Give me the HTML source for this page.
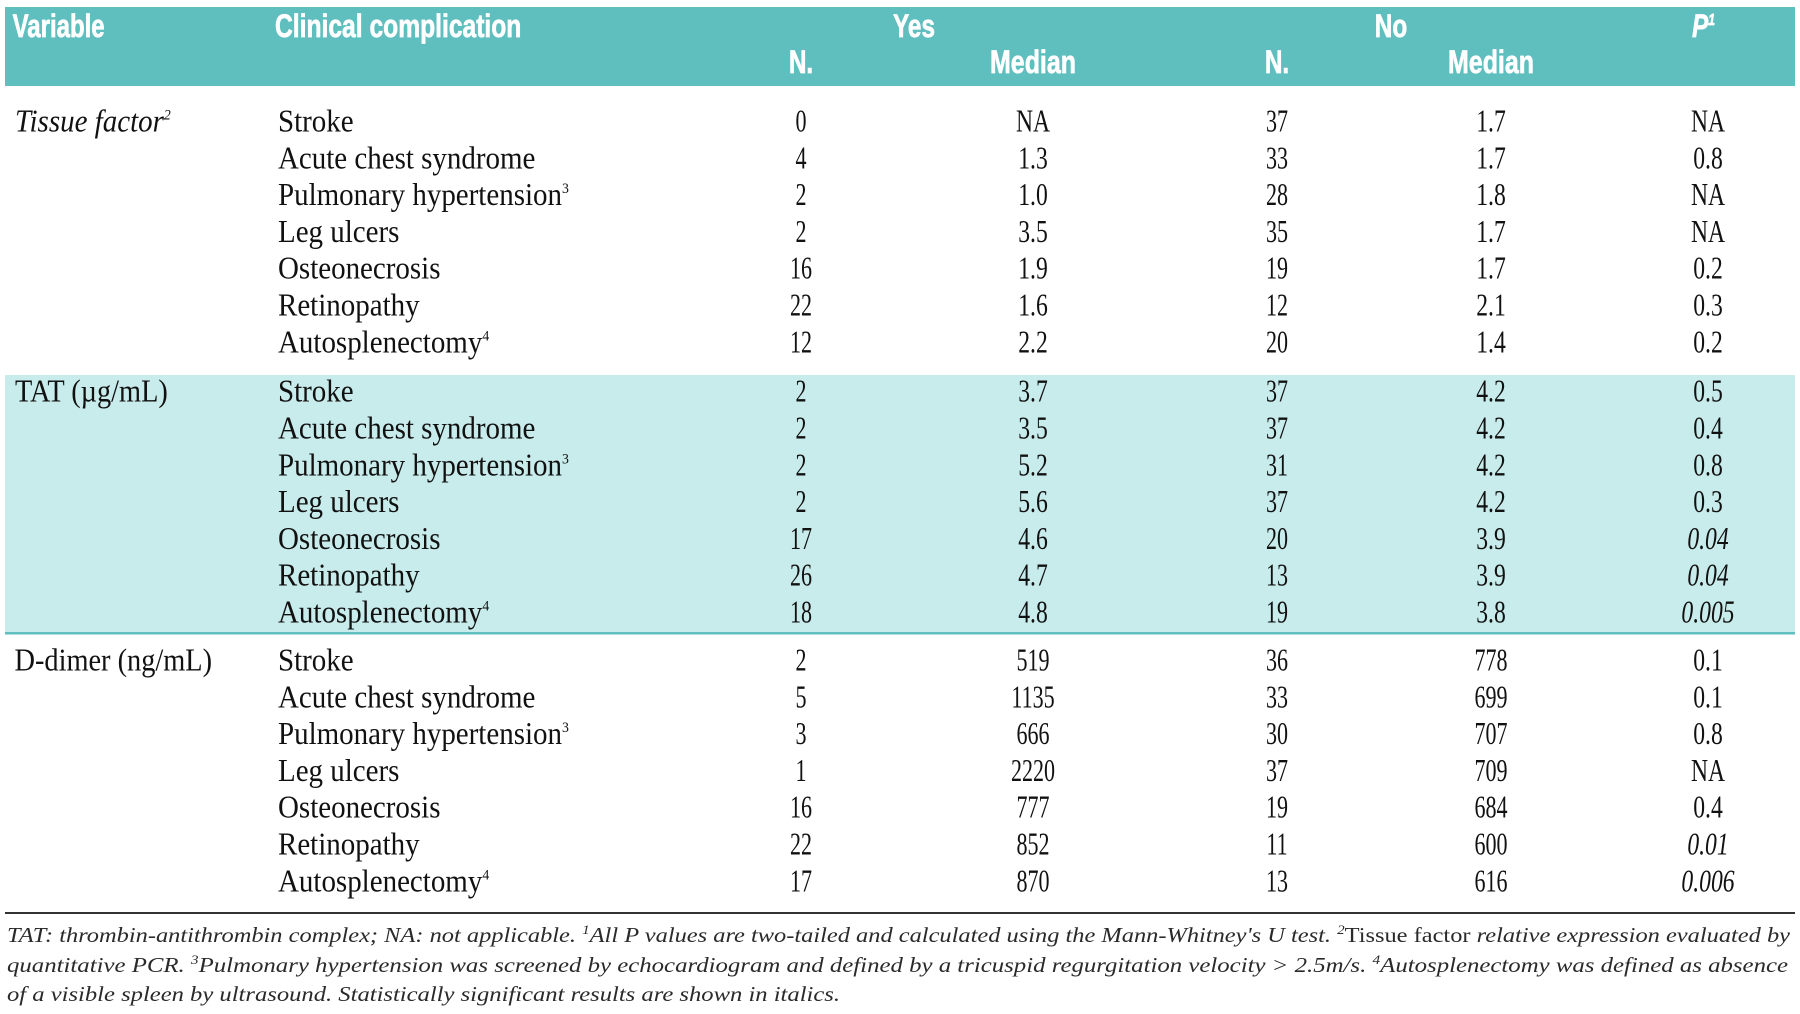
<!DOCTYPE html>
<html>
<head>
<meta charset="utf-8">
<style>
html,body{margin:0;padding:0;background:#fff;}
svg{display:block;}
.h{font-family:"Liberation Sans",sans-serif;font-weight:bold;font-size:32px;fill:#fff;stroke:#fff;stroke-width:0.7px;}
.b{font-family:"Liberation Serif",serif;font-size:31.5px;fill:#111;}
.n{font-family:"Liberation Serif",serif;font-size:31.5px;fill:#111;text-anchor:middle;}
.i{font-style:italic;}
.f{font-family:"Liberation Serif",serif;font-size:21px;fill:#2a2a2a;font-style:italic;}
</style>
</head>
<body>
<svg width="1800" height="1014" viewBox="0 0 1800 1014" xmlns="http://www.w3.org/2000/svg">
<rect x="0" y="0" width="1800" height="1014" fill="#fff"/>
<rect x="5" y="7" width="1790" height="79" fill="#5fbebe"/>
<rect x="5" y="375" width="1790" height="258" fill="#c8ebeb"/>
<rect x="5" y="632" width="1790" height="2.5" fill="#5fbebe"/>
<rect x="5" y="912" width="1790" height="2" fill="#333"/>

<!-- Header -->
<text class="h" transform="translate(12.6,37) scale(0.75,1)">Variable</text>
<text class="h" transform="translate(275,37) scale(0.77,1)">Clinical complication</text>
<text class="h" transform="translate(914,37) scale(0.76,1)" text-anchor="middle">Yes</text>
<text class="h" transform="translate(1391,37) scale(0.76,1)" text-anchor="middle">No</text>
<text class="h i" transform="translate(1692,37) scale(0.76,1)">P<tspan font-size="16" dy="-12">1</tspan></text>
<text class="h" transform="translate(801,73) scale(0.76,1)" text-anchor="middle">N.</text>
<text class="h" transform="translate(1033,73) scale(0.78,1)" text-anchor="middle">Median</text>
<text class="h" transform="translate(1277,73) scale(0.76,1)" text-anchor="middle">N.</text>
<text class="h" transform="translate(1491,73) scale(0.78,1)" text-anchor="middle">Median</text>

<!-- Variable column -->
<text class="b i" transform="translate(15,131.5) scale(0.92,1)">Tissue factor<tspan font-size="15" dy="-12">2</tspan></text>
<text class="b" transform="translate(15,401.7) scale(0.9,1)">TAT (µg/mL)</text>
<text class="b" transform="translate(14.5,670.5) scale(0.9,1)">D-dimer (ng/mL)</text>

<!-- Section 1 labels -->
<text class="b" transform="translate(278,131.5) scale(0.92,1)">Stroke</text>
<text class="b" transform="translate(278,168.3) scale(0.92,1)">Acute chest syndrome</text>
<text class="b" transform="translate(278,205.1) scale(0.92,1)">Pulmonary hypertension<tspan font-size="15" dy="-12">3</tspan></text>
<text class="b" transform="translate(278,241.9) scale(0.92,1)">Leg ulcers</text>
<text class="b" transform="translate(278,278.7) scale(0.92,1)">Osteonecrosis</text>
<text class="b" transform="translate(278,315.5) scale(0.92,1)">Retinopathy</text>
<text class="b" transform="translate(278,352.3) scale(0.92,1)">Autosplenectomy<tspan font-size="15" dy="-12">4</tspan></text>

<!-- Section 2 labels -->
<text class="b" transform="translate(278,401.7) scale(0.92,1)">Stroke</text>
<text class="b" transform="translate(278,438.5) scale(0.92,1)">Acute chest syndrome</text>
<text class="b" transform="translate(278,475.3) scale(0.92,1)">Pulmonary hypertension<tspan font-size="15" dy="-12">3</tspan></text>
<text class="b" transform="translate(278,512.1) scale(0.92,1)">Leg ulcers</text>
<text class="b" transform="translate(278,548.9) scale(0.92,1)">Osteonecrosis</text>
<text class="b" transform="translate(278,585.7) scale(0.92,1)">Retinopathy</text>
<text class="b" transform="translate(278,622.5) scale(0.92,1)">Autosplenectomy<tspan font-size="15" dy="-12">4</tspan></text>

<!-- Section 3 labels -->
<text class="b" transform="translate(278,670.5) scale(0.92,1)">Stroke</text>
<text class="b" transform="translate(278,707.3) scale(0.92,1)">Acute chest syndrome</text>
<text class="b" transform="translate(278,744.1) scale(0.92,1)">Pulmonary hypertension<tspan font-size="15" dy="-12">3</tspan></text>
<text class="b" transform="translate(278,780.9) scale(0.92,1)">Leg ulcers</text>
<text class="b" transform="translate(278,817.7) scale(0.92,1)">Osteonecrosis</text>
<text class="b" transform="translate(278,854.5) scale(0.92,1)">Retinopathy</text>
<text class="b" transform="translate(278,891.3) scale(0.92,1)">Autosplenectomy<tspan font-size="15" dy="-12">4</tspan></text>

<!-- Section 1 numbers -->
<text class="n" transform="translate(801,131.5) scale(0.7,1)">0</text>
<text class="n" transform="translate(1033,131.5) scale(0.75,1)">NA</text>
<text class="n" transform="translate(1277,131.5) scale(0.7,1)">37</text>
<text class="n" transform="translate(1491,131.5) scale(0.75,1)">1.7</text>
<text class="n" transform="translate(1708,131.5) scale(0.75,1)">NA</text>

<text class="n" transform="translate(801,168.3) scale(0.7,1)">4</text>
<text class="n" transform="translate(1033,168.3) scale(0.75,1)">1.3</text>
<text class="n" transform="translate(1277,168.3) scale(0.7,1)">33</text>
<text class="n" transform="translate(1491,168.3) scale(0.75,1)">1.7</text>
<text class="n" transform="translate(1708,168.3) scale(0.75,1)">0.8</text>

<text class="n" transform="translate(801,205.1) scale(0.7,1)">2</text>
<text class="n" transform="translate(1033,205.1) scale(0.75,1)">1.0</text>
<text class="n" transform="translate(1277,205.1) scale(0.7,1)">28</text>
<text class="n" transform="translate(1491,205.1) scale(0.75,1)">1.8</text>
<text class="n" transform="translate(1708,205.1) scale(0.75,1)">NA</text>

<text class="n" transform="translate(801,241.9) scale(0.7,1)">2</text>
<text class="n" transform="translate(1033,241.9) scale(0.75,1)">3.5</text>
<text class="n" transform="translate(1277,241.9) scale(0.7,1)">35</text>
<text class="n" transform="translate(1491,241.9) scale(0.75,1)">1.7</text>
<text class="n" transform="translate(1708,241.9) scale(0.75,1)">NA</text>

<text class="n" transform="translate(801,278.7) scale(0.7,1)">16</text>
<text class="n" transform="translate(1033,278.7) scale(0.75,1)">1.9</text>
<text class="n" transform="translate(1277,278.7) scale(0.7,1)">19</text>
<text class="n" transform="translate(1491,278.7) scale(0.75,1)">1.7</text>
<text class="n" transform="translate(1708,278.7) scale(0.75,1)">0.2</text>

<text class="n" transform="translate(801,315.5) scale(0.7,1)">22</text>
<text class="n" transform="translate(1033,315.5) scale(0.75,1)">1.6</text>
<text class="n" transform="translate(1277,315.5) scale(0.7,1)">12</text>
<text class="n" transform="translate(1491,315.5) scale(0.75,1)">2.1</text>
<text class="n" transform="translate(1708,315.5) scale(0.75,1)">0.3</text>

<text class="n" transform="translate(801,352.3) scale(0.7,1)">12</text>
<text class="n" transform="translate(1033,352.3) scale(0.75,1)">2.2</text>
<text class="n" transform="translate(1277,352.3) scale(0.7,1)">20</text>
<text class="n" transform="translate(1491,352.3) scale(0.75,1)">1.4</text>
<text class="n" transform="translate(1708,352.3) scale(0.75,1)">0.2</text>

<!-- Section 2 numbers -->
<text class="n" transform="translate(801,401.7) scale(0.7,1)">2</text>
<text class="n" transform="translate(1033,401.7) scale(0.75,1)">3.7</text>
<text class="n" transform="translate(1277,401.7) scale(0.7,1)">37</text>
<text class="n" transform="translate(1491,401.7) scale(0.75,1)">4.2</text>
<text class="n" transform="translate(1708,401.7) scale(0.75,1)">0.5</text>

<text class="n" transform="translate(801,438.5) scale(0.7,1)">2</text>
<text class="n" transform="translate(1033,438.5) scale(0.75,1)">3.5</text>
<text class="n" transform="translate(1277,438.5) scale(0.7,1)">37</text>
<text class="n" transform="translate(1491,438.5) scale(0.75,1)">4.2</text>
<text class="n" transform="translate(1708,438.5) scale(0.75,1)">0.4</text>

<text class="n" transform="translate(801,475.3) scale(0.7,1)">2</text>
<text class="n" transform="translate(1033,475.3) scale(0.75,1)">5.2</text>
<text class="n" transform="translate(1277,475.3) scale(0.7,1)">31</text>
<text class="n" transform="translate(1491,475.3) scale(0.75,1)">4.2</text>
<text class="n" transform="translate(1708,475.3) scale(0.75,1)">0.8</text>

<text class="n" transform="translate(801,512.1) scale(0.7,1)">2</text>
<text class="n" transform="translate(1033,512.1) scale(0.75,1)">5.6</text>
<text class="n" transform="translate(1277,512.1) scale(0.7,1)">37</text>
<text class="n" transform="translate(1491,512.1) scale(0.75,1)">4.2</text>
<text class="n" transform="translate(1708,512.1) scale(0.75,1)">0.3</text>

<text class="n" transform="translate(801,548.9) scale(0.7,1)">17</text>
<text class="n" transform="translate(1033,548.9) scale(0.75,1)">4.6</text>
<text class="n" transform="translate(1277,548.9) scale(0.7,1)">20</text>
<text class="n" transform="translate(1491,548.9) scale(0.75,1)">3.9</text>
<text class="n i" transform="translate(1708,548.9) scale(0.75,1)">0.04</text>

<text class="n" transform="translate(801,585.7) scale(0.7,1)">26</text>
<text class="n" transform="translate(1033,585.7) scale(0.75,1)">4.7</text>
<text class="n" transform="translate(1277,585.7) scale(0.7,1)">13</text>
<text class="n" transform="translate(1491,585.7) scale(0.75,1)">3.9</text>
<text class="n i" transform="translate(1708,585.7) scale(0.75,1)">0.04</text>

<text class="n" transform="translate(801,622.5) scale(0.7,1)">18</text>
<text class="n" transform="translate(1033,622.5) scale(0.75,1)">4.8</text>
<text class="n" transform="translate(1277,622.5) scale(0.7,1)">19</text>
<text class="n" transform="translate(1491,622.5) scale(0.75,1)">3.8</text>
<text class="n i" transform="translate(1708,622.5) scale(0.75,1)">0.005</text>

<!-- Section 3 numbers -->
<text class="n" transform="translate(801,670.5) scale(0.7,1)">2</text>
<text class="n" transform="translate(1033,670.5) scale(0.7,1)">519</text>
<text class="n" transform="translate(1277,670.5) scale(0.7,1)">36</text>
<text class="n" transform="translate(1491,670.5) scale(0.7,1)">778</text>
<text class="n" transform="translate(1708,670.5) scale(0.75,1)">0.1</text>

<text class="n" transform="translate(801,707.3) scale(0.7,1)">5</text>
<text class="n" transform="translate(1033,707.3) scale(0.7,1)">1135</text>
<text class="n" transform="translate(1277,707.3) scale(0.7,1)">33</text>
<text class="n" transform="translate(1491,707.3) scale(0.7,1)">699</text>
<text class="n" transform="translate(1708,707.3) scale(0.75,1)">0.1</text>

<text class="n" transform="translate(801,744.1) scale(0.7,1)">3</text>
<text class="n" transform="translate(1033,744.1) scale(0.7,1)">666</text>
<text class="n" transform="translate(1277,744.1) scale(0.7,1)">30</text>
<text class="n" transform="translate(1491,744.1) scale(0.7,1)">707</text>
<text class="n" transform="translate(1708,744.1) scale(0.75,1)">0.8</text>

<text class="n" transform="translate(801,780.9) scale(0.7,1)">1</text>
<text class="n" transform="translate(1033,780.9) scale(0.7,1)">2220</text>
<text class="n" transform="translate(1277,780.9) scale(0.7,1)">37</text>
<text class="n" transform="translate(1491,780.9) scale(0.7,1)">709</text>
<text class="n" transform="translate(1708,780.9) scale(0.75,1)">NA</text>

<text class="n" transform="translate(801,817.7) scale(0.7,1)">16</text>
<text class="n" transform="translate(1033,817.7) scale(0.7,1)">777</text>
<text class="n" transform="translate(1277,817.7) scale(0.7,1)">19</text>
<text class="n" transform="translate(1491,817.7) scale(0.7,1)">684</text>
<text class="n" transform="translate(1708,817.7) scale(0.75,1)">0.4</text>

<text class="n" transform="translate(801,854.5) scale(0.7,1)">22</text>
<text class="n" transform="translate(1033,854.5) scale(0.7,1)">852</text>
<text class="n" transform="translate(1277,854.5) scale(0.7,1)">11</text>
<text class="n" transform="translate(1491,854.5) scale(0.7,1)">600</text>
<text class="n i" transform="translate(1708,854.5) scale(0.75,1)">0.01</text>

<text class="n" transform="translate(801,891.3) scale(0.7,1)">17</text>
<text class="n" transform="translate(1033,891.3) scale(0.7,1)">870</text>
<text class="n" transform="translate(1277,891.3) scale(0.7,1)">13</text>
<text class="n" transform="translate(1491,891.3) scale(0.7,1)">616</text>
<text class="n i" transform="translate(1708,891.3) scale(0.75,1)">0.006</text>

<!-- Footnotes -->
<text class="f" x="7" y="942" textLength="1783" lengthAdjust="spacingAndGlyphs">TAT: thrombin-antithrombin complex; NA: not applicable. <tspan font-size="13" dy="-8">1</tspan><tspan dy="8">All P values are two-tailed and calculated using the Mann-Whitney's U test. </tspan><tspan font-size="13" dy="-8">2</tspan><tspan dy="8" font-style="normal">Tissue factor</tspan><tspan> relative expression evaluated by</tspan></text>
<text class="f" x="7" y="972" textLength="1781" lengthAdjust="spacingAndGlyphs">quantitative PCR. <tspan font-size="13" dy="-8">3</tspan><tspan dy="8">Pulmonary hypertension was screened by echocardiogram and defined by a tricuspid regurgitation velocity &gt; 2.5m/s. </tspan><tspan font-size="13" dy="-8">4</tspan><tspan dy="8">Autosplenectomy was defined as absence</tspan></text>
<text class="f" x="7" y="1001" textLength="833" lengthAdjust="spacingAndGlyphs">of a visible spleen by ultrasound. Statistically significant results are shown in italics.</text>
</svg>
</body>
</html>
